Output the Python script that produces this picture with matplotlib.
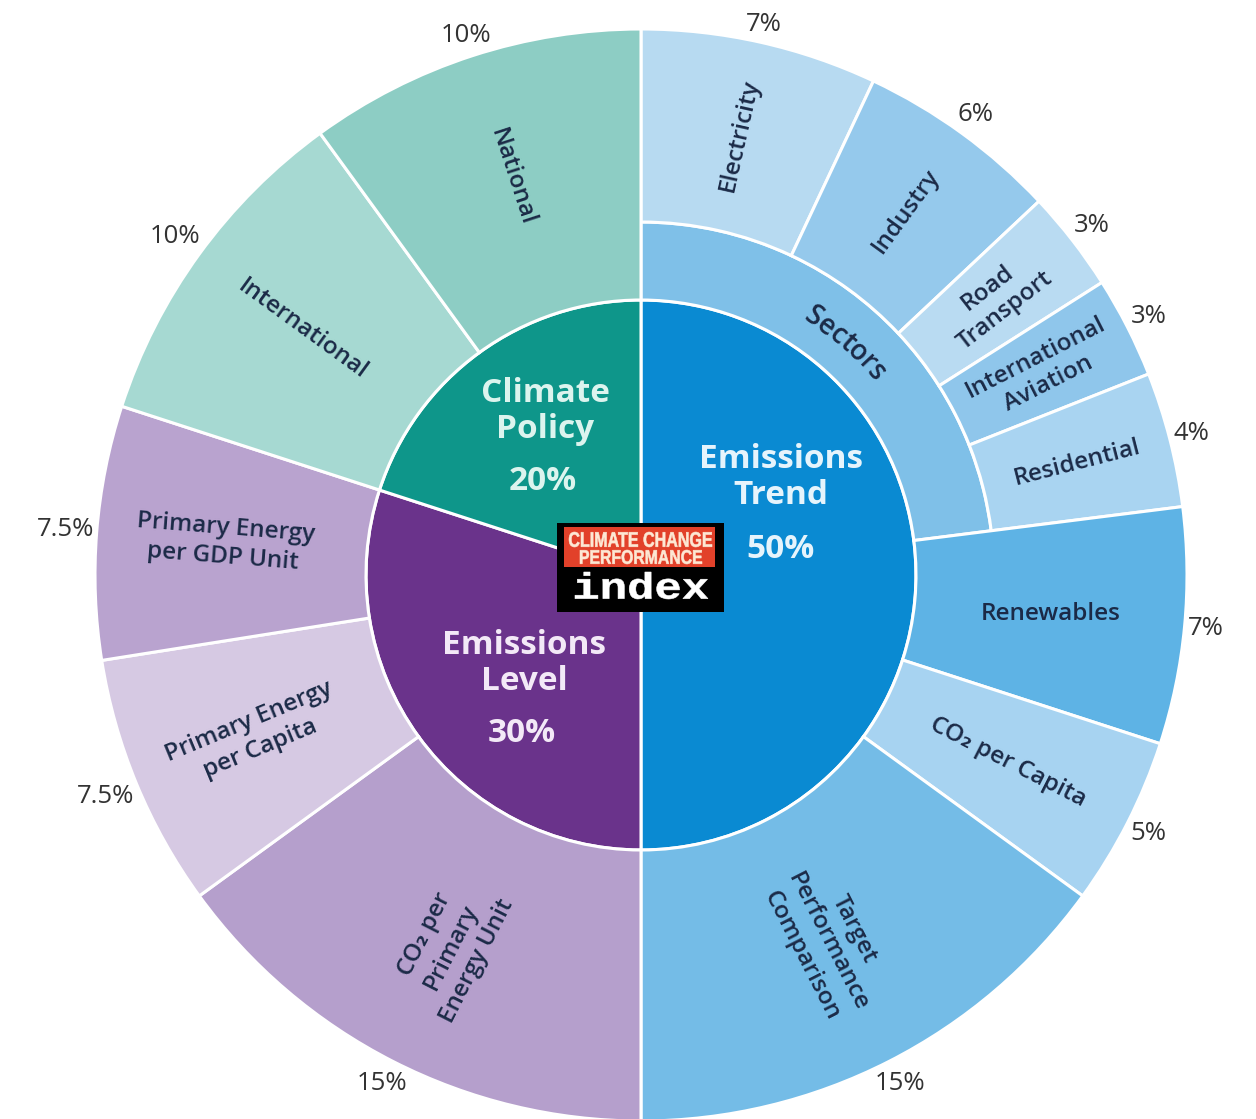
import numpy as np
import matplotlib
matplotlib.use("Agg")
import matplotlib.pyplot as plt
from matplotlib.patches import Wedge, Rectangle, PathPatch
from matplotlib.textpath import TextPath
from matplotlib.font_manager import FontProperties
from matplotlib.transforms import Affine2D

# ---------------- data ----------------
main_labels = ["Emissions\nTrend", "Emissions\nLevel", "Climate\nPolicy"]
main_weights = [50, 30, 20]

sub_labels = ["Sectors", "Renewables", "CO\u2082 per Capita", "Target\nPerformance\nComparison",
              "CO\u2082 per\nPrimary\nEnergy Unit", "Primary Energy\nper Capita",
              "Primary Energy\nper GDP Unit", "International", "National"]
sub_weights = [23, 7, 5, 15, 15, 7.5, 7.5, 10, 10]
sub_parent = [0, 0, 0, 0, 1, 1, 1, 2, 2]

sector_labels = ["Electricity", "Industry", "Road\nTransport", "International\nAviation", "Residential"]
sector_weights = [7, 6, 3, 3, 4]

# ---------------- style ----------------
main_colors = ["#0a8ad2", "#6a338b", "#0e968a"]
main_text_colors = ["#e6f4fc", "#f3e9f7", "#dcf4ee"]
sub_colors = ["#7fc0e8", "#5eb3e5", "#a7d3f1", "#74bce7",
              "#b59fcc", "#d6c9e3", "#b9a3cf", "#a6d9d2", "#8dcdc4"]
sector_colors = ["#b7daf1", "#95c9ec", "#b9dbf2", "#8fc6eb", "#a9d4f1"]
label_color = "#1b2a47"
pct_color = "#333333"
edge = "white"

W, H = 1256, 1119
cx, cy = 641, H - 575
R0, R1, R2 = 275, 353, 546

fig = plt.figure(figsize=(W / 100, H / 100), dpi=100)
ax = fig.add_axes([0, 0, 1, 1])
ax.set_xlim(0, W)
ax.set_ylim(0, H)
ax.axis("off")

FAM = ["Open Sans", "DejaVu Sans"]


def std_angle(p):
    """cumulative percentage (clockwise from top) -> standard angle in degrees"""
    return 90 - 3.6 * p


def polar(a_top, r):
    t = np.deg2rad(a_top)
    return cx + r * np.sin(t), cy + r * np.cos(t)


def wedge(p0, p1, r_in, r_out, color):
    ax.add_patch(Wedge((cx, cy), r_out, std_angle(p1), std_angle(p0), width=r_out - r_in,
                       facecolor=color, edgecolor=edge, linewidth=2.2))


renderer = fig.canvas.get_renderer()
pct_r0 = 548


def pct_label(a_top, text):
    x, y = polar(a_top, pct_r0)
    t = ax.text(x, y, text, ha="center", va="center", fontsize=18.5, color=pct_color, family=FAM)
    bb = t.get_window_extent(renderer)
    s, c = abs(np.sin(np.deg2rad(a_top))), abs(np.cos(np.deg2rad(a_top)))
    r = pct_r0 + bb.width / 2 * s + bb.height / 2 * c
    t.set_position(polar(a_top, r))


def seg_label(a_top, r, text, rot=None, size=17.5):
    if rot is None:
        rot = 90 - a_top if a_top < 180 else 270 - a_top
    x, y = polar(a_top, r)
    ax.text(x, y, text, ha="center", va="center", rotation=rot, rotation_mode="anchor",
            fontsize=size, color=label_color, family=FAM, fontweight="semibold",
            linespacing=1.3, multialignment="center")


# main ring
p = 0
for w, col in zip(main_weights, main_colors):
    wedge(p, p + w, 0, R0, col)
    p += w

# sub ring
p = 0
for lab, w, col in zip(sub_labels, sub_weights, sub_colors):
    mid = (p + w / 2) * 3.6
    if lab == "Sectors":
        wedge(p, p + w, R0, R1, col)
        q = p
        for slab, sw, scol in zip(sector_labels, sector_weights, sector_colors):
            wedge(q, q + sw, R1, R2, scol)
            smid = (q + sw / 2) * 3.6
            seg_label(smid, 450, slab)
            pct_label(smid, f"{sw:g}%")
            q += sw
        # curved "Sectors"
        rr = 310
        fp = FontProperties(family=FAM, weight="semibold", size=20)
        widths = [renderer.get_text_width_height_descent(lab[:i], fp, ismath=False)[0] if i > 0 else 0
                  for i in range(len(lab) + 1)]
        total = widths[-1]
        for i, ch in enumerate(lab):
            cpos = (widths[i] + widths[i + 1]) / 2 - total / 2
            a = mid + np.rad2deg(cpos / rr)
            x, y = polar(a, rr)
            ax.text(x, y, ch, ha="center", va="center", rotation=-a, rotation_mode="anchor",
                    fontproperties=fp, color=label_color)
    else:
        wedge(p, p + w, R0, R2, col)
        rot = 0 if lab == "Renewables" else None
        r_lab = 412 if mid < 180 else 418
        seg_label(mid, r_lab, lab, rot=rot)
        pct_label(mid, f"{w:g}%")
    p += w

# main labels (offsets from centre in pixels)
name_pos = [(140, 97), (-117, -89), (-96, 164)]
pct_pos = [(140, 25), (-119, -159), (-98, 93)]
for lab, w, tc, npos, ppos in zip(main_labels, main_weights, main_text_colors, name_pos, pct_pos):
    ax.text(cx + npos[0], cy + npos[1], lab, ha="center", va="center", fontsize=24,
            fontweight="bold", color=tc, family=FAM, linespacing=1.12)
    ax.text(cx + ppos[0], cy + ppos[1], f"{w}%", ha="center", va="center", fontsize=24,
            fontweight="bold", color=tc, family=FAM)


# ---------------- logo ----------------
def fit_text(s, x0, ytop, x1, ybot, fp, color):
    tp = TextPath((0, 0), s, size=10, prop=fp)
    bb = tp.get_extents()
    y0, y1 = H - ybot, H - ytop
    tr = (Affine2D().translate(-bb.x0, -bb.y0)
          .scale((x1 - x0) / bb.width, (y1 - y0) / bb.height).translate(x0, y0))
    ax.add_patch(PathPatch(tr.transform_path(tp), facecolor=color, edgecolor=color,
                           linewidth=0.4, zorder=6))


ax.add_patch(Rectangle((557, H - 612), 167, 89, facecolor="black", edgecolor="none", zorder=5))
ax.add_patch(Rectangle((564, H - 567), 151, 40, facecolor="#e2412a", edgecolor="none", zorder=5))
fp_logo = FontProperties(family=["Liberation Sans Narrow", "Liberation Sans", "DejaVu Sans"], weight="bold")
fit_text("CLIMATE CHANGE", 569, 532, 712, 547, fp_logo, "#fde8d4")
fit_text("PERFORMANCE", 580, 550, 702, 564, fp_logo, "#fde8d4")
fp_idx = FontProperties(family=["Liberation Mono", "DejaVu Sans Mono"], weight="bold")
fit_text("index", 575, 572, 708, 599, fp_idx, "white")

fig.savefig("out.png", dpi=100)
